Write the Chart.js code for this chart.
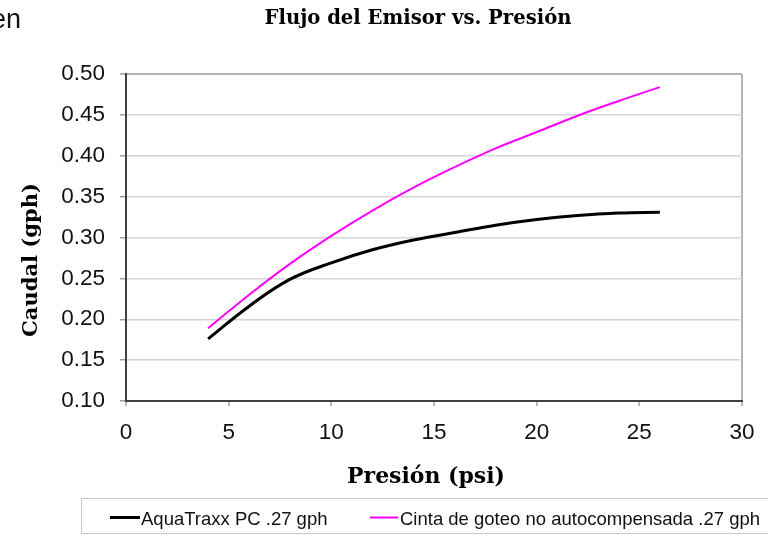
<!DOCTYPE html>
<html>
<head>
<meta charset="utf-8">
<script src="https://cdn.jsdelivr.net/npm/chart.js@4/dist/chart.umd.min.js"></script>
<style>
  html, body { margin: 0; padding: 0; background: #fff; }
  #wrap { width: 768px; height: 536px; position: relative; }
</style>
</head>
<body>
<div id="wrap"><canvas id="c" width="768" height="536"></canvas></div>
<script>
// ---- data ----
const pressure = [4, 6, 8, 10, 12, 14, 16, 18, 20, 22, 24, 26];
const aquaTraxx = [0.176, 0.216, 0.249, 0.269, 0.285, 0.297, 0.306, 0.315, 0.322, 0.327, 0.330, 0.331];
const cinta = [0.189, 0.230, 0.268, 0.302, 0.333, 0.361, 0.386, 0.409, 0.429, 0.449, 0.467, 0.484];
const seriesLabels = ["AquaTraxx PC .27 gph", "Cinta de goteo no autocompensada .27 gph"];
const chartTitle = "Flujo del Emisor vs. Presi\u00f3n";
const xTitle = "Presi\u00f3n (psi)";
const yTitle = "Caudal (gph)";
const fragmentText = "en";
const xTicks = [0, 5, 10, 15, 20, 25, 30];
const yTicks = [0.10, 0.15, 0.20, 0.25, 0.30, 0.35, 0.40, 0.45, 0.50];

const serif = '"DejaVu Serif", "Liberation Serif", serif';
const sans = '"Liberation Sans", Arial, sans-serif';

function fitFont(ctx, text, target, base) {
  ctx.font = 'bold ' + base + 'px ' + serif;
  const w = ctx.measureText(text).width;
  const size = base * target / w;
  return 'bold ' + size.toFixed(2) + 'px ' + serif;
}

const decor = {
  id: 'decor',
  afterDraw(chart) {
    const ctx = chart.ctx;
    ctx.save();
    ctx.fillStyle = '#000';
    // main title
    ctx.font = fitFont(ctx, chartTitle, 307, 16);
    ctx.textAlign = 'center';
    ctx.textBaseline = 'alphabetic';
    ctx.fillText(chartTitle, 418, 24);
    // stray fragment at top-left
    ctx.font = '27px ' + sans;
    ctx.textAlign = 'left';
    ctx.fillStyle = '#111';
    ctx.fillText(fragmentText, -9, 28);
    ctx.fillStyle = '#000';
    // x title
    ctx.font = fitFont(ctx, xTitle, 158, 20);
    ctx.textAlign = 'center';
    ctx.fillText(xTitle, 426, 483);
    // y title
    ctx.save();
    ctx.translate(37, 260);
    ctx.rotate(-Math.PI / 2);
    ctx.font = fitFont(ctx, yTitle, 154, 20);
    ctx.textAlign = 'center';
    ctx.fillText(yTitle, 0, 0);
    ctx.restore();
    // legend box
    ctx.strokeStyle = '#c8c8c8';
    ctx.lineWidth = 1;
    ctx.strokeRect(81.5, 498.5, 700, 35);
    const items = [
      { x0: 110, x1: 140, tx: 141 },
      { x0: 370, x1: 398, tx: 400 }
    ];
    chart.data.datasets.forEach((ds, i) => {
      const it = items[i];
      ctx.strokeStyle = ds.borderColor;
      ctx.lineWidth = ds.borderWidth;
      ctx.beginPath();
      ctx.moveTo(it.x0, 517.5);
      ctx.lineTo(it.x1, 517.5);
      ctx.stroke();
      ctx.fillStyle = '#111';
      ctx.font = '18.5px ' + sans;
      ctx.textAlign = 'left';
      ctx.textBaseline = 'alphabetic';
      ctx.fillText(ds.label, it.tx, 525);
    });
    ctx.restore();
  }
};

const toPoints = (xs, ys) => xs.map((x, i) => ({ x: x, y: ys[i] }));

new Chart(document.getElementById('c'), {
  type: 'line',
  data: {
    datasets: [
      {
        label: seriesLabels[0],
        data: toPoints(pressure, aquaTraxx),
        borderColor: '#000000',
        borderWidth: 3,
        pointRadius: 0,
        tension: 0.4,
        fill: false
      },
      {
        label: seriesLabels[1],
        data: toPoints(pressure, cinta),
        borderColor: '#ff00ff',
        borderWidth: 2,
        pointRadius: 0,
        tension: 0.4,
        fill: false
      }
    ]
  },
  options: {
    responsive: false,
    animation: false,
    devicePixelRatio: 1,
    layout: { padding: { left: 0, right: 26, top: 74, bottom: 80 } },
    plugins: {
      legend: { display: false },
      title: { display: false },
      tooltip: { enabled: false }
    },
    scales: {
      x: {
        type: 'linear',
        min: xTicks[0],
        max: xTicks[xTicks.length - 1],
        afterBuildTicks: (s) => { s.ticks = xTicks.map(v => ({ value: v })); },
        afterFit: (s) => { s.height = 55; },
        ticks: {
          font: { family: sans, size: 22.5 },
          color: '#111',
          padding: 13,
          maxRotation: 0
        },
        grid: {
          drawOnChartArea: true,
          color: (c) => (c.index === xTicks.length - 1 ? '#b4b4b4' : 'rgba(0,0,0,0)'),
          lineWidth: 2,
          tickColor: '#a0a0a0',
          tickLength: 5,
          tickWidth: 1.5
        },
        border: { display: true, color: '#404040', width: 2 }
      },
      y: {
        type: 'linear',
        min: yTicks[0],
        max: yTicks[yTicks.length - 1],
        afterBuildTicks: (s) => { s.ticks = yTicks.map(v => ({ value: v })); },
        afterFit: (s) => { s.width = 126; },
        ticks: {
          font: { family: sans, size: 22.5 },
          color: '#111',
          padding: 15,
          callback: (v) => Number(v).toFixed(2)
        },
        grid: {
          color: (c) => (c.index === yTicks.length - 1 ? '#b4b4b4' : '#d6d6d6'),
          lineWidth: (c) => (c.index === yTicks.length - 1 ? 2 : 1.5),
          tickColor: '#a0a0a0',
          tickLength: 6,
          tickWidth: 1.5
        },
        border: { display: true, color: '#404040', width: 2 }
      }
    }
  },
  plugins: [decor]
});
</script>
</body>
</html>
